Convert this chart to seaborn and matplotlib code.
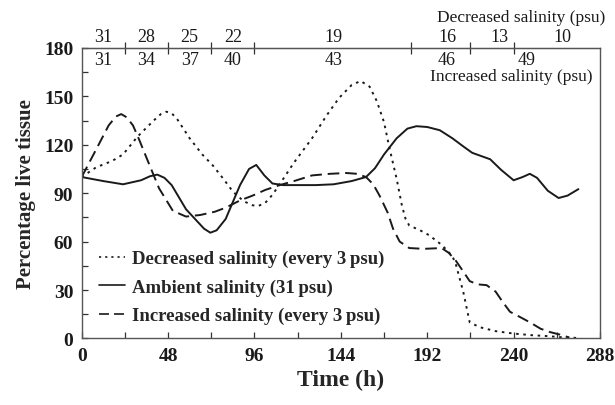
import numpy as np
import pandas as pd
import matplotlib
matplotlib.use("Agg")
import matplotlib.pyplot as plt
import matplotlib.transforms as mtransforms
import seaborn as sns

# Time (h) / percentage live tissue
amb_t = [0, 12, 23, 33, 38, 42, 46, 50, 58, 63, 68, 71.5, 75, 80, 88, 93, 97, 101.5, 106, 112,
         120, 130, 140, 150, 158, 163, 168, 175, 181, 186, 192, 199, 206, 212, 217, 222, 227, 233,
         240, 245, 249, 253, 259, 265, 270, 276]
amb_v = [100, 97.5, 95.5, 98, 100.5, 101.5, 99.5, 95, 80, 74, 68, 65.5, 67, 74, 95, 105, 107.5,
         101, 96, 95, 95, 95, 95.5, 97.5, 100, 105.5, 114, 124, 130, 131.5, 131, 129, 124, 119,
         115, 113, 111, 104.5, 98, 100, 102, 99.5, 91.5, 87, 88.5, 92.5]

dec_t = [0, 8, 17, 23, 31, 40, 44, 47, 50, 53, 60, 67, 73, 79, 84, 90, 95, 98, 102, 106, 110, 118,
         128, 136, 143, 150, 155, 160, 164, 168, 171, 175, 178, 180, 182, 188, 193, 200, 206, 208,
         212, 215.6, 221, 230, 240, 250, 258, 266, 275]
dec_v = [100, 106, 110, 114, 125, 135, 139, 140.5, 139.5, 136, 124, 114, 107, 98.5, 91, 85, 82.5,
         82, 84, 89, 95.5, 109, 124, 138, 149, 157, 159.5, 156, 147, 134, 118, 99, 82, 74, 70, 67,
         64, 58, 51, 45.5, 29, 10, 7, 4.5, 3, 2, 1.5, 0.8, 0.3]

inc_t = [0, 8, 15, 19, 22, 25, 28.5, 32, 36, 43, 50.7, 58, 66, 74, 80, 88, 95, 102, 110, 118,
         128, 138, 147, 153, 158, 162, 165.5, 170, 173, 176.7, 182, 190, 200, 204, 208, 212, 215.6,
         220, 225, 230, 234, 238, 244, 249, 255, 260, 267, 271]
inc_v = [100, 117, 132, 137.5, 139, 137, 132, 123, 112, 93, 79, 75.5, 76.5, 78.5, 81, 85.5, 88.5,
         92, 95, 97.5, 101, 102, 102.5, 102, 100, 95.5, 88.5, 78, 68, 60, 56, 55.5, 56, 53, 48,
         41.5, 35.5, 33.5, 33, 29, 22.5, 16.5, 13, 10, 6, 4, 2, 0.5]

series_names = ["Decreased salinity (every 3\u2009psu)",
                "Ambient salinity (31\u2009psu)",
                "Increased salinity (every 3\u2009psu)"]

# salinity steps shown along the top axis
step_ticks = [24, 48, 72, 96, 183, 216, 240]
dec_labels = ["31", "28", "25", "22", "19", "16", "13", "10"]
dec_label_t = [12, 36, 60, 84, 140, 203, 232, 267]
inc_labels = ["31", "34", "37", "40", "43", "46", "49"]
inc_label_t = [12, 36, 60, 84, 140, 203, 247]

df = pd.concat([
    pd.DataFrame({"t": dec_t, "v": dec_v, "s": series_names[0]}),
    pd.DataFrame({"t": amb_t, "v": amb_v, "s": series_names[1]}),
    pd.DataFrame({"t": inc_t, "v": inc_v, "s": series_names[2]}),
])

sns.set_style("ticks")
plt.rcParams["font.family"] = ["Liberation Serif", "DejaVu Serif"]

fig = plt.figure(figsize=(6.15, 4.06), dpi=100)
ax = fig.add_axes([0.1328, 0.164, 0.8428, 0.7155])

styles = {series_names[0]: (0, (1.3, 2.4)),
          series_names[1]: "-",
          series_names[2]: (0, (6, 3))}
for name in series_names:
    sub = df[df["s"] == name]
    sns.lineplot(data=sub, x="t", y="v", ax=ax, color="#1a1a1a", lw=1.4,
                 linestyle=styles[name], label=name, sort=False)

ax.set_xlim(0, 288)
ax.set_ylim(0, 180)
ax.set_xticks(np.arange(0, 289, 48))
ax.set_xticks(np.arange(0, 289, 24), minor=True)
ax.set_yticks(np.arange(0, 181, 30))
ax.set_yticks(np.arange(0, 181, 15), minor=True)
ax.tick_params(which="both", direction="in", length=4, width=0.9, colors="#333333")
ax.tick_params(which="major", labelsize=14, labelcolor="#1a1a1a", pad=6)
for lab in ax.get_xticklabels() + ax.get_yticklabels():
    lab.set_fontweight("bold")
for sp in ax.spines.values():
    sp.set_linewidth(1.0)
    sp.set_color("#555555")

ax.set_xlabel("Time (h)", fontsize=17, fontweight="bold", labelpad=4)
ax.set_ylabel("Percentage live tissue", fontsize=15, fontweight="bold", labelpad=6)

top = ax.secondary_xaxis("top")
top.set_xticks(step_ticks)
top.set_xticklabels([])
top.tick_params(direction="inout", length=8, width=0.9, colors="#333333")

trans = mtransforms.blended_transform_factory(ax.transData, ax.transAxes)
for lab, t in zip(dec_labels, dec_label_t):
    ax.text(t, 1.01, lab, transform=trans, ha="center", va="bottom", fontsize=13, color="#1a1a1a")
for lab, t in zip(inc_labels, inc_label_t):
    ax.text(t, 0.988, lab, transform=trans, ha="center", va="top", fontsize=13, color="#1a1a1a")
ax.text(1.01, 1.08, "Decreased salinity (psu)", transform=ax.transAxes, ha="right",
        va="bottom", fontsize=12.5, color="#1a1a1a")
ax.text(0.985, 0.93, "Increased salinity (psu)", transform=ax.transAxes, ha="right",
        va="top", fontsize=12.5, color="#1a1a1a")

leg = ax.legend(loc="lower left", bbox_to_anchor=(0.0, -0.01), frameon=False,
                handlelength=1.4, handletextpad=0.4, labelspacing=0.6,
                prop={"weight": "bold", "size": 13.5})
for h in leg.get_lines():
    h.set_linewidth(1.2)

fig.savefig("out.png", dpi=100)
